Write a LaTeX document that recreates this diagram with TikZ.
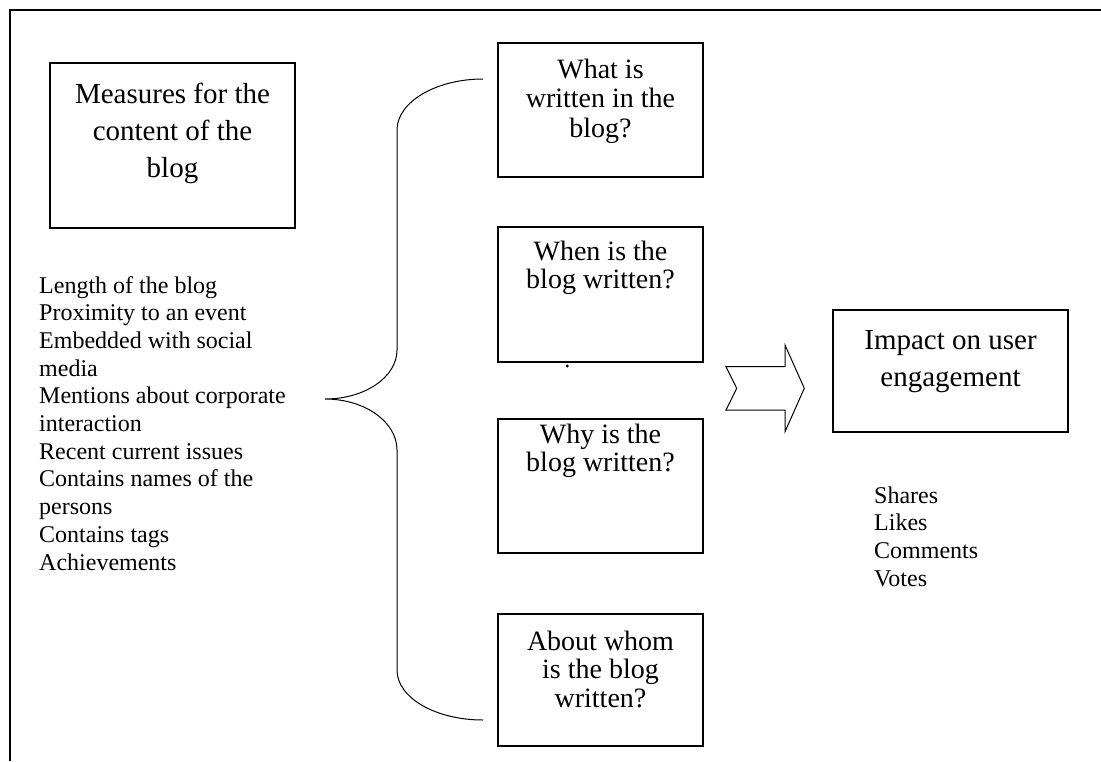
\documentclass[tikz,border=0pt]{standalone}
\usepackage{fontspec}
\setmainfont{Liberation Serif}
\newcommand\mylinesc[2]{\vtop{\baselineskip=#1\lineskiplimit=-100pt\halign{\hfil##\hfil\cr #2\crcr}}}
\newcommand\mylinesl[2]{\vtop{\baselineskip=#1\lineskiplimit=-100pt\halign{##\hfil\cr #2\crcr}}}
\begin{document}
\begin{tikzpicture}[x=1pt,y=-1pt,
  box/.style={draw, line width=1.3pt, inner sep=0pt, outer sep=0pt, rectangle},
  bigtxt/.style={anchor=base, inner sep=0pt, font=\fontsize{29}{37}\selectfont},
  boxtxt/.style={anchor=base, inner sep=0pt, font=\fontsize{28}{29}\selectfont},
  listtxt/.style={anchor=base west, inner sep=0pt, font=\fontsize{24}{28}\selectfont},
  brace/.style={draw, line width=1pt},
  frame/.style={draw, line width=2pt}]
\useasboundingbox (0,0) rectangle (1101,761);
% outer frame (top and left edges only)
\coordinate (fr1) at (9.5,761);
\coordinate (fr2) at (9.5,10);
\coordinate (fr3) at (1101,10);
\draw[frame] (fr1) -- (fr2) -- (fr3);
% left box
\node[box, minimum width=245pt, minimum height=165pt] (meas) at (172.5,145.5) {};
\node[bigtxt] (meast) at (172.5,103) {\mylinesc{37pt}{Measures for the\cr content of the\cr blog}};
% left list
\node[listtxt] (list) at (39,293) {\mylinesl{27.7pt}{Length of the blog\cr Proximity to an event\cr Embedded with social\cr media\cr Mentions about corporate\cr interaction\cr Recent current issues\cr Contains names of the\cr persons\cr Contains tags\cr Achievements}};
% middle boxes
\node[box, minimum width=205pt, minimum height=134pt] (q1) at (600.5,110) {};
\node[boxtxt] (q1t) at (600.5,78) {\mylinesc{29.5pt}{What is\cr written in the\cr blog?}};
\node[box, minimum width=205pt, minimum height=135pt] (q2) at (600.5,294.5) {};
\node[boxtxt] (q2t) at (600.5,260) {\mylinesc{28.5pt}{When is the\cr blog written?}};
\node[box, minimum width=205pt, minimum height=134pt] (q3) at (600.5,486) {};
\node[boxtxt] (q3t) at (600.5,443) {\mylinesc{28.5pt}{Why is the\cr blog written?}};
\node[box, minimum width=205pt, minimum height=132pt] (q4) at (600.5,680) {};
\node[boxtxt] (q4t) at (600.5,650) {\mylinesc{28.5pt}{About whom\cr is the blog\cr written?}};
% stray dot
\fill (567.3,366) circle (1.6pt);
% brace
\coordinate (bt) at (483,79);
\coordinate (bm) at (325,399);
\coordinate (bb) at (483,720);
\draw[brace] (bt) .. controls (436,79) and (397,102) .. (397,130)
  -- (397,350) .. controls (397,377) and (365,399) .. (bm)
  .. controls (365,399) and (397,422) .. (397,450)
  -- (397,670) .. controls (397,698) and (436,720) .. (bb);
% notched arrow
\coordinate (ar) at (765,388);
\draw[line width=1pt, line join=miter] (726,366.7) -- (785,366.7) -- (785,345) -- (804.3,388.3) -- (785,431.7) -- (785,410) -- (726,410) -- (736.7,388.3) -- cycle;
% impact box
\node[box, minimum width=235pt, minimum height=122pt] (imp) at (950.5,371) {};
\node[bigtxt] (impt) at (950.5,349) {\mylinesc{37pt}{Impact on user\cr engagement}};
% right list
\node[listtxt] (rlist) at (874,503) {\mylinesl{27.7pt}{Shares\cr Likes\cr Comments\cr Votes}};
\end{tikzpicture}
\end{document}
